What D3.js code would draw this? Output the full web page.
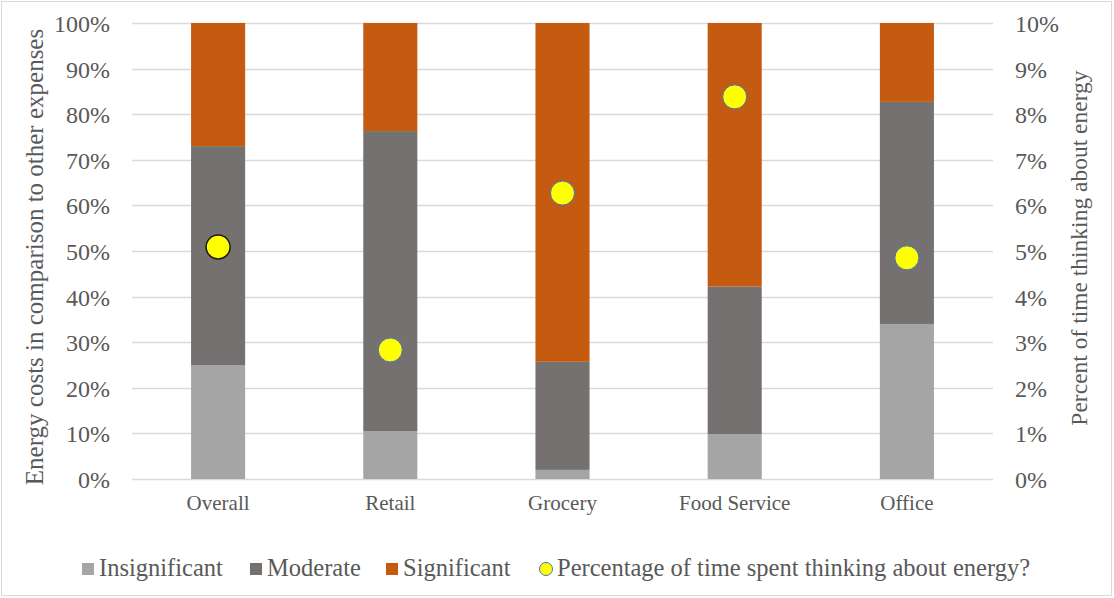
<!DOCTYPE html>
<html>
<head>
<meta charset="utf-8">
<script src="https://cdn.jsdelivr.net/npm/d3@7"></script>
<style>
  html, body { margin: 0; padding: 0; background: #fff; }
  svg { display: block; }
  text { font-family: "Liberation Serif", "Times New Roman", serif; fill: #595959; }
</style>
</head>
<body>
<svg id="chart" width="1114" height="598"></svg>
<script>
// Sector categories
const categories = ["Overall", "Retail", "Grocery", "Food Service", "Office"];
// Share of respondents rating energy costs (stacked, sums to 100%)
const insignificant = [0.25, 0.105, 0.02, 0.098, 0.34];
const moderate      = [0.48, 0.658, 0.237, 0.324, 0.487];
const significant   = [0.27, 0.237, 0.743, 0.578, 0.173];
// Percentage of time spent thinking about energy (right axis)
const timeThinking  = [0.0509, 0.0283, 0.0627, 0.0838, 0.0485];
const leftTicks  = [0, 0.1, 0.2, 0.3, 0.4, 0.5, 0.6, 0.7, 0.8, 0.9, 1.0];
const rightTicks = [0, 0.01, 0.02, 0.03, 0.04, 0.05, 0.06, 0.07, 0.08, 0.09, 0.10];
const seriesNames = ["Insignificant", "Moderate", "Significant"];
const seriesColors = ["#A5A5A5", "#767171", "#C55A11"];
const dotLabel = "Percentage of time spent thinking about energy?";

const SERIF = "'Liberation Serif', 'Times New Roman', serif";
const svg = d3.select("#chart");
const W = 1114, H = 598;
const m = { left: 132, right: 121, top: 23, bottom: 119 };
const iw = W - m.left - m.right, ih = H - m.top - m.bottom;

// chart-area border
svg.append("rect").attr("x", 1.5).attr("y", 1.5).attr("width", W - 4).attr("height", H - 4)
  .attr("fill", "#fff").attr("stroke", "#d9d9d9").attr("stroke-width", 1);

const g = svg.append("g").attr("transform", `translate(${m.left},${m.top})`);

const x = d3.scaleBand().domain(categories).range([0, iw]).paddingInner(0.686).paddingOuter(0.343);
const y = d3.scaleLinear().domain([0, 1]).range([ih, 0]);
const y2 = d3.scaleLinear().domain([0, 0.10]).range([ih, 0]);

// gridlines
g.append("g").selectAll("line").data(leftTicks).join("line")
  .attr("x1", 0).attr("x2", iw)
  .attr("y1", d => Math.round(y(d)) + 0.5).attr("y2", d => Math.round(y(d)) + 0.5)
  .attr("stroke", "#d9d9d9").attr("stroke-width", 1.3);

// stacked bars
const rows = categories.map((c, i) => ({
  cat: c, Insignificant: insignificant[i], Moderate: moderate[i], Significant: significant[i]
}));
const stack = d3.stack().keys(seriesNames)(rows);
g.append("g").selectAll("g").data(stack).join("g")
  .attr("fill", (d, i) => seriesColors[i])
  .selectAll("rect").data(d => d).join("rect")
  .attr("x", d => x(d.data.cat))
  .attr("width", x.bandwidth())
  .attr("y", d => y(d[1]))
  .attr("height", d => y(d[0]) - y(d[1]));

function styleTicks(sel, size) {
  sel.selectAll("text").style("font-size", size + "px").attr("fill", "#595959")
    .style("font-family", SERIF);
}

// left axis
const leftAxis = d3.axisLeft(y).tickValues(leftTicks).tickFormat(d3.format(".0%")).tickSize(0).tickPadding(22);
const la = g.append("g").call(leftAxis);
la.select(".domain").remove();
styleTicks(la, 24);
la.selectAll("text").attr("dy", "0.35em");

// right axis
const rightAxis = d3.axisRight(y2).tickValues(rightTicks).tickFormat(d3.format(".0%")).tickSize(0).tickPadding(22);
const ra = g.append("g").attr("transform", `translate(${iw},0)`).call(rightAxis);
ra.select(".domain").remove();
styleTicks(ra, 24);
ra.selectAll("text").attr("dy", "0.35em");

// category axis
const bottomAxis = d3.axisBottom(x).tickSize(0).tickPadding(0);
const ba = g.append("g").attr("transform", `translate(0,${ih})`).call(bottomAxis);
ba.select(".domain").remove();
styleTicks(ba, 21);
ba.selectAll("text").attr("y", 31).attr("dy", null);

// time-thinking markers
g.append("g").selectAll("circle").data(timeThinking).join("circle")
  .attr("cx", (d, i) => x(categories[i]) + x.bandwidth() / 2)
  .attr("cy", d => y2(d))
  .attr("r", 12)
  .attr("fill", "#FFFF00")
  .attr("stroke", (d, i) => i === 0 ? "#1a1a1a" : "#4472C4")
  .attr("stroke-width", (d, i) => i === 0 ? 1.5 : 1);

// axis titles
svg.append("text")
  .attr("transform", `translate(43,257) rotate(-90)`)
  .attr("text-anchor", "middle")
  .style("font-family", SERIF)
  .style("font-size", "25px")
  .text("Energy costs in comparison to other expenses");
svg.append("text")
  .attr("transform", `translate(1087,248) rotate(-90)`)
  .attr("text-anchor", "middle")
  .style("font-family", SERIF)
  .style("font-size", "23.5px")
  .text("Percent of time thinking about energy");

// legend
const legend = svg.append("g");
const legendItems = [
  { name: "Insignificant", color: seriesColors[0], x: 82 },
  { name: "Moderate", color: seriesColors[1], x: 250 },
  { name: "Significant", color: seriesColors[2], x: 386 }
];
legendItems.forEach(it => {
  legend.append("rect").attr("x", it.x).attr("y", 563).attr("width", 12).attr("height", 12).attr("fill", it.color);
  legend.append("text").attr("x", it.x + 17).attr("y", 576)
    .style("font-family", SERIF).style("font-size", "24.5px").text(it.name);
});
legend.append("circle").attr("cx", 546).attr("cy", 569).attr("r", 6.5)
  .attr("fill", "#FFFF00").attr("stroke", "#4472C4").attr("stroke-width", 1);
legend.append("text").attr("x", 557).attr("y", 576)
  .style("font-family", SERIF).style("font-size", "24.5px").text(dotLabel);
</script>
</body>
</html>
